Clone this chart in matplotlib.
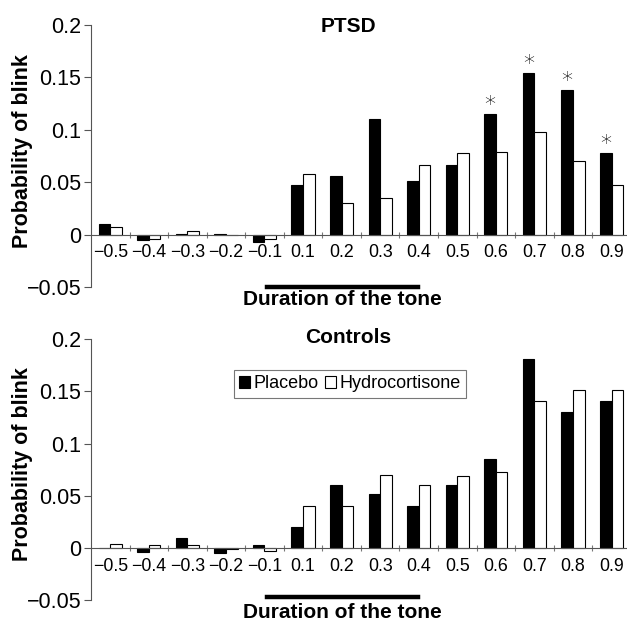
import matplotlib
matplotlib.use('Agg')
import matplotlib.pyplot as plt
from matplotlib.patches import Patch
from matplotlib.lines import Line2D
import numpy as np

plt.rcParams['font.family'] = ['Liberation Sans', 'DejaVu Sans']

# data
durations = ['\u22120.5', '\u22120.4', '\u22120.3', '\u22120.2', '\u22120.1',
             '0.1', '0.2', '0.3', '0.4', '0.5', '0.6', '0.7', '0.8', '0.9']
ptsd_placebo = [0.010, -0.005, 0.001, 0.001, -0.007, 0.047, 0.056, 0.110,
                0.051, 0.066, 0.115, 0.154, 0.138, 0.078]
ptsd_hydro = [0.007, -0.004, 0.003, 0.000, -0.004, 0.058, 0.030, 0.035,
              0.066, 0.078, 0.079, 0.098, 0.070, 0.047]
ctrl_placebo = [0.000, -0.004, 0.009, -0.005, 0.003, 0.020, 0.060, 0.052,
                0.040, 0.060, 0.085, 0.181, 0.130, 0.141]
ctrl_hydro = [0.004, 0.003, 0.003, -0.001, -0.003, 0.040, 0.040, 0.070,
              0.060, 0.069, 0.073, 0.141, 0.151, 0.151]
ptsd_stars = ['0.6', '0.7', '0.8', '0.9']

fig = plt.figure(figsize=(6.27, 6.22), dpi=100)
ax_top = fig.add_axes([0.1451, 0.5386, 0.861, 0.4212])
ax_bot = fig.add_axes([0.1451, 0.0354, 0.861, 0.4191])

ind = np.arange(len(durations))
width = 0.3


def draw_panel(ax, placebo, hydro, title, ty):
    ax.bar(ind - width / 2, placebo, width, color='black', edgecolor='black', linewidth=0.8)
    ax.bar(ind + width / 2, hydro, width, color='white', edgecolor='black', linewidth=0.8)
    ax.set_xlim(-0.5, len(durations) - 0.5)
    ax.set_ylim(-0.05, 0.2)
    ax.set_yticks([-0.05, 0, 0.05, 0.1, 0.15, 0.2])
    ax.set_yticklabels(['\u22120.05', '0', '0.05', '0.1', '0.15', '0.2'], fontsize=15.5)
    ax.spines['top'].set_visible(False)
    ax.spines['right'].set_visible(False)
    ax.spines['bottom'].set_position(('data', 0))
    ax.spines['left'].set_color('#555555')
    ax.spines['bottom'].set_color('#555555')
    ax.spines['left'].set_linewidth(0.8)
    ax.spines['bottom'].set_linewidth(0.8)
    ax.tick_params(axis='y', direction='out', length=5, color='#555555', pad=2)
    # tick marks between categories, labels at the centres
    ax.set_xticks(ind[:-1] + 0.5)
    ax.set_xticklabels([])
    ax.tick_params(axis='x', which='major', direction='inout', length=5, color='#777777')
    ax.set_xticks(ind, minor=True)
    ax.set_xticklabels(durations, minor=True, fontsize=12.8)
    ax.tick_params(axis='x', which='minor', length=0, pad=7)
    ax.set_ylabel('Probability of blink', fontsize=15.5, fontweight='bold')
    ax.yaxis.set_label_coords(-0.107, 0.52)
    fig.text(0.555, ty, title, ha='center', va='center', fontsize=15, fontweight='bold')


draw_panel(ax_top, ptsd_placebo, ptsd_hydro, 'PTSD', 0.958)
draw_panel(ax_bot, ctrl_placebo, ctrl_hydro, 'Controls', 0.4566)

for lab in ptsd_stars:
    i = durations.index(lab)
    ax_top.text(i - width / 2, ptsd_placebo[i] - 0.001, '*', ha='center', va='bottom',
                fontsize=16, family='DejaVu Sans', fontweight='light')

# "Duration of the tone" bars and labels
for ly, ty in [(0.5378, 0.5177), (0.0402, 0.0155)]:
    fig.add_artist(Line2D([0.4258, 0.6667], [ly, ly], color='black', linewidth=3.2))
    fig.text(0.5455, ty, 'Duration of the tone', ha='center', va='center',
             fontsize=15, fontweight='bold')

handles = [Patch(facecolor='black', edgecolor='black', linewidth=0.8),
           Patch(facecolor='white', edgecolor='black', linewidth=0.8)]
leg = ax_bot.legend(handles, ['Placebo', 'Hydrocortisone'], ncol=2, fontsize=13,
                    loc='upper left', bbox_to_anchor=(0.265, 0.882), fancybox=False,
                    handlelength=0.6, handleheight=0.6, handletextpad=0.2,
                    columnspacing=0.35, borderpad=0.3, borderaxespad=0)
leg.get_frame().set_edgecolor('#555555')
leg.get_frame().set_linewidth(0.8)

fig.savefig('out.png', dpi=100)
